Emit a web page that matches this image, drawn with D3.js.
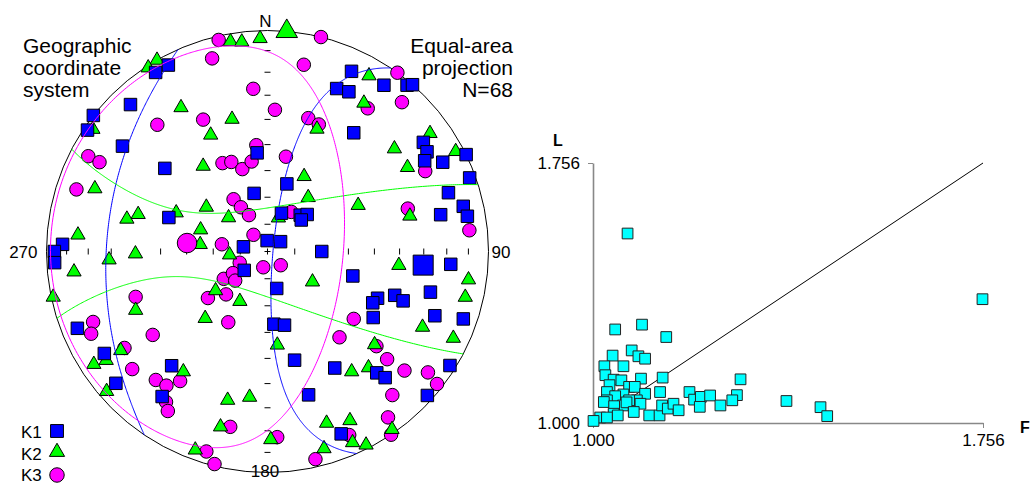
<!DOCTYPE html>
<html>
<head>
<meta charset="utf-8">
<script src="https://cdn.jsdelivr.net/npm/d3@7"></script>
<style>
body{margin:0;background:#fff;}
text{font-family:"Liberation Sans",Arial,sans-serif;fill:#000;}
</style>
</head>
<body>
<svg id="chart" width="1030" height="484"></svg>
<script>
/* Richtungen [Azimut, Einfallen] der Hauptachsen je Probe */
var k1Dirs=[[332,5],[328,5],[317,10],[308,0],[304,2],[306,20],[309,40],[354,53],[347,68],[289,51],
  [25,11],[23,21],[27,20],[35,9],[40,2],[41,0],[36,34],[55,15],[64,0],[58,16],
  [60,19],[63,12],[16,64],[70,3],[72,15],[77,10],[80,9],[78,21],[20,75],[42,72],
  [47,70],[47,73],[358,86],[53,84],[281,81],[90,70],[231,79],[166,76],[175,63],[167,62],
  [272,8],[270,4],[267,4],[248,8],[238,14],[220,33],[229,10],[216,20],[94,18],[106,57],
  [104,25],[113,45],[116,46],[109,39],[110,35],[122,43],[111,20],[109,7],[166,48],[150,39],
  [138,27],[137,23],[122,3],[164,33],[132,3],[158,12]];
var k2Dirs=[[350,4],[353,5],[358,4],[330,0],[327,1],[329,25],[345,38],[334,41],[323,50],[290,18],
  [306,62],[283,35],[286,39],[293,53],[311,71],[288,64],[275,15],[305,4],[30,9],[33,21],
  [22,40],[54,10],[51,27],[62,4],[59,27],[26,59],[37,65],[63,52],[76,34],[18,77],
  [276,65],[267,29],[269,40],[264,13],[265,76],[233,66],[209,69],[258,1],[246,35],[223,56],
  [236,21],[237,7],[236,13],[215,34],[229,4],[195,31],[187,34],[195,19],[179,16],[200,5],
  [174,55],[96,40],[124,70],[98,9],[103,9],[116,23],[115,8],[131,36],[145,34],[139,31],
  [161,19],[154,16],[156,6],[145,2],[153,2],[164,8]];
var k3Dirs=[[347,2],[344,10],[355,27],[3,36],[319,25],[334,34],[354,50],[298,9],[298,15],[333,53],
  [338,54],[343,58],[350,56],[288,10],[327,67],[329,71],[333,75],[320,82],[14,0],[11,15],
  [36,0],[42,10],[35,22],[17,37],[22,38],[11,54],[63,21],[73,34],[84,9],[31,73],
  [279,73],[248,79],[195,84],[136,83],[238,71],[238,75],[228,74],[232,62],[224,68],[209,60],
  [128,49],[251,37],[248,16],[245,13],[234,36],[236,23],[229,20],[221,24],[217,25],[214,30],
  [214,19],[212,16],[192,20],[177,17],[197,6],[194,1],[140,48],[131,35],[132,28],[131,19],
  [127,10],[128,3],[139,15],[144,8],[156,10],[146,0],[167,4]];

/* Mittelwerte K1, K2, K3 und Konfidenzwinkel (zur ersten / zweiten anderen Achse) */
var meanDirs=[[95,30],[5,0],[276,60]];
var confAngles=[[66,58],[65,78.5],[58,78]];

/* Flinn-Diagramm: F und L je Probe */
var flinnF=[1.067,1.043,1.095,1.142,1.075,1.038,1.088,1.101,1.022,1.059,1.024,1.040,1.055,1.093,1.135,
  1.032,1.070,1.081,1.286,1.027,1.101,1.130,1.187,1.196,1.209,1.227,1.279,1.270,1.059,1.043,
  1.085,1.070,1.027,1.021,1.058,1.041,1.092,1.065,1.040,1.048,1.079,1.109,1.129,1.134,1.145,
  1.156,1.166,1.207,1.247,1.014,1.001,1.027,1.755,1.375,1.441,1.454];
var flinnL=[1.551,1.272,1.286,1.250,1.211,1.196,1.194,1.187,1.165,1.165,1.139,1.126,1.124,1.129,1.132,
  1.110,1.105,1.105,1.127,1.090,1.085,1.090,1.090,1.068,1.076,1.080,1.081,1.066,1.083,1.078,
  1.066,1.066,1.066,1.061,1.051,1.049,1.056,1.060,1.027,1.022,1.032,1.022,1.022,1.051,1.042,
  1.056,1.037,1.047,1.051,1.016,1.006,1.016,1.360,1.064,1.046,1.020];
var flinnMax=1.756;

var svg=d3.select("#chart");
svg.append("rect").attr("width",1030).attr("height",484).attr("fill","#fff");

/* Stereonetz (Schmidt, untere Halbkugel) */
var cx=267.5, cy=251.5, R=221;
var proj=d3.geoAzimuthalEqualArea().rotate([0,-90]).scale(R/Math.SQRT2).translate([cx,cy]);
function pt(d){return proj([180-d[0],d[1]]);}

var rad=Math.PI/180;
function vec(d){var t=d[0]*rad,p=d[1]*rad;return [Math.cos(p)*Math.cos(t),Math.cos(p)*Math.sin(t),Math.sin(p)];}
function dot(a,b){return a[0]*b[0]+a[1]*b[1]+a[2]*b[2];}
function norm(a){var l=Math.sqrt(dot(a,a));return a.map(function(v){return v/l;});}
function cross(a,b){return [a[1]*b[2]-a[2]*b[1],a[2]*b[0]-a[0]*b[2],a[0]*b[1]-a[1]*b[0]];}
function toTP(v){return [(Math.atan2(v[1],v[0])/rad+360)%360,Math.asin(Math.max(-1,Math.min(1,v[2])))/rad];}

function ellipse(m,a,b,ea,eb){
  m=vec(m);
  var u=vec(a),um=dot(u,m);
  u=norm(u.map(function(x,i){return x-um*m[i];}));
  var w=cross(m,u);
  if(dot(w,vec(b))<0) w=w.map(function(x){return -x;});
  var ta=Math.tan(ea*rad),tb=Math.tan(eb*rad);
  var segs=[],cur=[],prev=null;
  for(var i=0;i<=720;i++){
    var f=i/720*2*Math.PI;
    var q=[0,1,2].map(function(k){return m[k]+ta*Math.cos(f)*u[k]+tb*Math.sin(f)*w[k];});
    if(prev&&((prev[2]>=0)!=(q[2]>=0))){
      var t=prev[2]/(prev[2]-q[2]);
      var c=[0,1,2].map(function(k){return prev[k]+t*(q[k]-prev[k]);});c[2]=0;
      var s=prev[2]>=0?1:-1;
      cur.push(c.map(function(x){return x*s;}));segs.push(cur);
      cur=[c.map(function(x){return -x*s;})];
    }
    var n=norm(q);
    cur.push(q[2]>=0?n:n.map(function(x){return -x;}));
    prev=q;
  }
  segs.push(cur);
  if(segs.length>1){var last=segs.pop();segs[0]=last.concat(segs[0]);}
  return segs.map(function(sg){return sg.map(function(v){return pt(toTP(v));});});
}

var net=svg.append("g");
net.append("circle").attr("cx",cx).attr("cy",cy).attr("r",R).attr("fill","none").attr("stroke","#000").attr("stroke-width",1);

/* Teilstriche alle 10 Grad */
var tickPl=[80,70,60,50,40,30,20,10];
[0,90,180,270].forEach(function(tr){
  tickPl.forEach(function(pl){
    var p=pt([tr,pl]);
    if(tr%180==0) net.append("line").attr("x1",p[0]-3).attr("x2",p[0]+3).attr("y1",p[1]).attr("y2",p[1]);
    else net.append("line").attr("x1",p[0]).attr("x2",p[0]).attr("y1",p[1]-3).attr("y2",p[1]+3);
  });
});
var c0=pt([0,90]);
net.append("line").attr("x1",c0[0]-3).attr("x2",c0[0]+3).attr("y1",c0[1]).attr("y2",c0[1]);
net.append("line").attr("x1",c0[0]).attr("x2",c0[0]).attr("y1",c0[1]-3).attr("y2",c0[1]+3);
net.selectAll("line").attr("stroke","#000").attr("stroke-width",1);

var colors=["#0000ff","#00ff00","#ff00ff"];
var types=[d3.symbolSquare,d3.symbolTriangle,d3.symbolCircle];
var sizes=[156,88,143];
var bigSizes=[400,200,300];
var allDirs=[k1Dirs,k2Dirs,k3Dirs];

/* Punkte: K3 zuerst, dann K2, K1 */
[2,1,0].forEach(function(k){
  net.append("g").selectAll("path").data(allDirs[k]).enter().append("path")
    .attr("d",d3.symbol().type(types[k]).size(sizes[k]))
    .attr("transform",function(d){var p=pt(d);return "translate("+p[0]+","+p[1]+")";})
    .attr("fill",colors[k]).attr("stroke","#000").attr("stroke-width",1);
});

/* Konfidenzellipsen */
var line=d3.line();
[0,1,2].forEach(function(k){
  var others=[0,1,2].filter(function(j){return j!=k;});
  ellipse(meanDirs[k],meanDirs[others[0]],meanDirs[others[1]],confAngles[k][0],confAngles[k][1]).forEach(function(sg){
    net.append("path").attr("d",line(sg)).attr("fill","none").attr("stroke",colors[k]).attr("stroke-width",1);
  });
});

/* Mittelwerte */
[0,1,2].forEach(function(k){
  var p=pt(meanDirs[k]);
  net.append("path").attr("d",d3.symbol().type(types[k]).size(bigSizes[k])())
    .attr("transform","translate("+p[0]+","+p[1]+")")
    .attr("fill",colors[k]).attr("stroke","#000").attr("stroke-width",1);
});

/* Beschriftungen */
function txt(x,y,s,anchor,size,weight){
  return svg.append("text").attr("x",x).attr("y",y).attr("text-anchor",anchor||"start")
    .attr("font-size",size||17).attr("font-weight",weight||"normal").text(s);
}
txt(265.5,26.5,"N","middle");
txt(37.5,257.5,"270","end");
txt(491.5,257.5,"90","start");
txt(265,477,"180","middle");
["Geographic","coordinate","system"].forEach(function(s,i){txt(23,53+i*22,s,"start",21);});
["Equal-area","projection","N=68"].forEach(function(s,i){txt(513,53+i*22,s,"end",21);});

/* Legende */
var legY=[431,452,475], legT=[438,460,481];
["K1","K2","K3"].forEach(function(s,k){
  txt(21,legT[k],s,"start",17);
  svg.append("path").attr("d",d3.symbol().type(types[k]).size(k==1?100:165)())
    .attr("transform","translate(57,"+legY[k]+")")
    .attr("fill",colors[k]).attr("stroke","#000").attr("stroke-width",1);
});

/* Flinn-Diagramm */
var fx=d3.scaleLinear().domain([1,flinnMax]).range([593,983]);
var fy=d3.scaleLinear().domain([1,flinnMax]).range([423,163]);
var fmt=d3.format(".3f");
var ax=svg.append("g").attr("transform","translate(0,423)")
  .call(d3.axisBottom(fx).tickValues([1,flinnMax]).tickFormat(fmt).tickSize(5).tickSizeOuter(0).tickPadding(6));
var ay=svg.append("g").attr("transform","translate(593,0)")
  .call(d3.axisLeft(fy).tickValues([1,flinnMax]).tickFormat(fmt).tickSize(5).tickSizeOuter(0).tickPadding(8));
[ax,ay].forEach(function(a){
  a.attr("font-family",null).attr("font-size",null);
  a.select(".domain").attr("stroke","#888").attr("stroke-width",1.6);
  a.selectAll(".tick line").attr("stroke","#888");
  a.selectAll(".tick text").attr("fill","#000").attr("font-size",17);
});
svg.append("line").attr("x1",fx(1)).attr("y1",fy(1)).attr("x2",fx(flinnMax)).attr("y2",fy(flinnMax))
  .attr("stroke","#000").attr("stroke-width",1);
svg.append("g").selectAll("path").data(flinnF).enter().append("path")
  .attr("d",d3.symbol().type(d3.symbolSquare).size(115))
  .attr("transform",function(d,i){return "translate("+fx(d)+","+fy(flinnL[i])+")";})
  .attr("fill","#00ffff").attr("stroke","#222").attr("stroke-width",1);
txt(553,146,"L","start",16,"bold");
txt(1020,433,"F","start",16,"bold");
</script>
</body>
</html>
